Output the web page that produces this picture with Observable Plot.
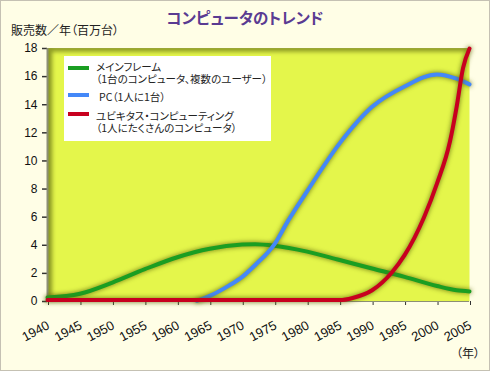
<!DOCTYPE html>
<html><head><meta charset="utf-8">
<script src="https://cdn.jsdelivr.net/npm/d3@7"></script>
<script src="https://cdn.jsdelivr.net/npm/@observablehq/plot@0.6"></script>
<style>
html,body{margin:0;padding:0;background:#fffee6;}
#wrap{position:relative;width:490px;height:371px;background:#fffee6;overflow:hidden;font-family:"Liberation Sans","Noto Sans CJK JP",sans-serif;}
#wrap svg{position:absolute;left:0;top:0;}
.abs{position:absolute;white-space:nowrap;}
.jp{font-family:"Noto Sans CJK JP",sans-serif;font-feature-settings:"palt";}
#title{left:0;width:490px;top:7px;text-align:center;font-size:15.5px;font-weight:bold;color:#5a3b92;line-height:20px;}
#ylab{left:11px;top:22px;font-size:12px;color:#222;line-height:16px;}
#xunit{left:456px;top:346px;font-size:12px;color:#222;line-height:14px;}
#legend{left:64px;top:56px;width:207px;height:85px;background:#fff;}
.sw{position:absolute;left:4px;width:21px;height:4px;}
.lt{position:absolute;left:32px;font-size:10.5px;line-height:12px;height:12px;color:#222;white-space:nowrap;}
#border{left:0;top:0;width:488px;height:369px;border:1px solid #c5c1b3;pointer-events:none;}
</style></head>
<body>
<div id="wrap"></div>
<script>
// ---- data ----
const mainframeYears = [1940,1945,1950,1955,1960,1965,1970,1972,1975,1980,1985,1990,1995,2000,2003,2005];
const mainframeValues = [0.28,0.55,1.35,2.3,3.15,3.75,4.05,4.08,3.97,3.55,2.95,2.35,1.75,1.1,0.8,0.72];
const pcYears = [1963,1965,1968,1970,1972,1975,1977,1980,1985,1990,1995,2000,2003,2005];
const pcValues = [0.05,0.4,1.15,1.75,2.6,4.1,5.7,7.85,11.25,13.85,15.3,16.15,15.85,15.45];
const ubiYears = [1940,1960,1985,1987,1990,1993,1995,1998,2000,2002,2003,2004,2005];
const ubiValues = [0.1,0.1,0.1,0.25,0.8,2.05,3.3,6.0,8.4,11.4,13.8,16.6,18];
const seriesNames = ["メインフレーム","PC","ユビキタス・コンピューティング"];
const legendLines = [["メインフレーム","（1台のコンピュータ、複数のユーザー）"],["PC（1人に1台）"],["ユビキタス・コンピューティング","（1人にたくさんのコンピュータ）"]];
const seriesColors = ["#1a9e22","#4488f8","#c8001f"];
const xTicks = [1940,1945,1950,1955,1960,1965,1970,1975,1980,1985,1990,1995,2000,2005];
const yTicks = [0,2,4,6,8,10,12,14,16,18];
const titleText = "コンピュータのトレンド";
const yLabelText = "販売数／年（百万台）";
const xUnitText = "（年）";

const toRows = (ys, vs, s) => ys.map((y,i)=>({year:y, value:vs[i], series:s}));
const mainRows = toRows(mainframeYears, mainframeValues, seriesNames[0]);
const pcRows = toRows(pcYears, pcValues, seriesNames[1]);
const ubiRows = toRows(ubiYears, ubiValues, seriesNames[2]);
const xMin = xTicks[0], yMax = yTicks[yTicks.length-1];

const chart = Plot.plot({
  width: 490, height: 371,
  marginTop: 48, marginBottom: 70, marginLeft: 47, marginRight: 21,
  style: {background: "transparent", fontFamily: "Liberation Sans, Arial, sans-serif", fontSize: "12px", color: "#111"},
  x: {domain: [1940, 2005], label: null},
  y: {domain: [0, 18], label: null},
  marks: [
    Plot.frame({fill: "#e4f64b"}),
    Plot.ruleX([xMin], {stroke: "#889522", strokeWidth: 9, clip: true}),
    Plot.ruleY([yMax], {stroke: "#889522", strokeWidth: 6, clip: true}),
    Plot.axisY({ticks: yTicks, tickSize: 5, tickPadding: 5, stroke: "#333", strokeWidth: 1.5, fontSize: 12, fill: "#111", label: null}),
    Plot.axisX({ticks: xTicks, tickFormat: d => String(d), tickSize: 4, tickPadding: 19, tickRotate: -28, textAnchor: "end", dx: 1, stroke: "#333", fontSize: 13, fill: "#111", label: null}),
    Plot.ruleX([xMin], {stroke: "#8c8f74", strokeWidth: 2}),
    Plot.ruleY([0], {stroke: "#8c8f74", strokeWidth: 1}),
    Plot.line(mainRows, {x: "year", y: "value", stroke: seriesColors[0], strokeWidth: 4, curve: "monotone-x"}),
    Plot.line(pcRows, {x: "year", y: "value", stroke: seriesColors[1], strokeWidth: 4, curve: "monotone-x"}),
    Plot.line(ubiRows, {x: "year", y: "value", stroke: seriesColors[2], strokeWidth: 4, curve: "monotone-x"})
  ]
});

d3.select(chart).selectAll('g[aria-label="line"]').style("filter", "drop-shadow(0px 0px 2.5px rgba(95,105,10,0.95))");
const rules = d3.select(chart).selectAll('g[aria-label="rule"]');
rules.filter((d,i)=>i<2).style("filter", "blur(2px)");

const wrap = document.getElementById("wrap");
wrap.appendChild(chart);

function addDiv(id, text, cls){ const d=document.createElement("div"); d.className="abs" + (cls? " "+cls : ""); d.id=id; if(text) d.textContent=text; wrap.appendChild(d); return d; }
addDiv("title", titleText, "jp");
addDiv("ylab", yLabelText, "jp");
addDiv("xunit", xUnitText, "jp");
const lg = addDiv("legend");
const swTop = [10, 37, 56];
const txtTops = [[5,17],[35],[54,66]];
legendLines.forEach((lines, i) => {
  const sw = document.createElement("div"); sw.className="sw"; sw.style.top = swTop[i]+"px"; sw.style.background = seriesColors[i]; lg.appendChild(sw);
  lines.forEach((ln, j) => {
    const t = document.createElement("div"); t.className="lt jp"; t.style.top = txtTops[i][j]+"px";
    if (i===1) t.style.left = "35px";
    t.textContent = ln;
    lg.appendChild(t);
  });
});
addDiv("border");
</script>
</body></html>
